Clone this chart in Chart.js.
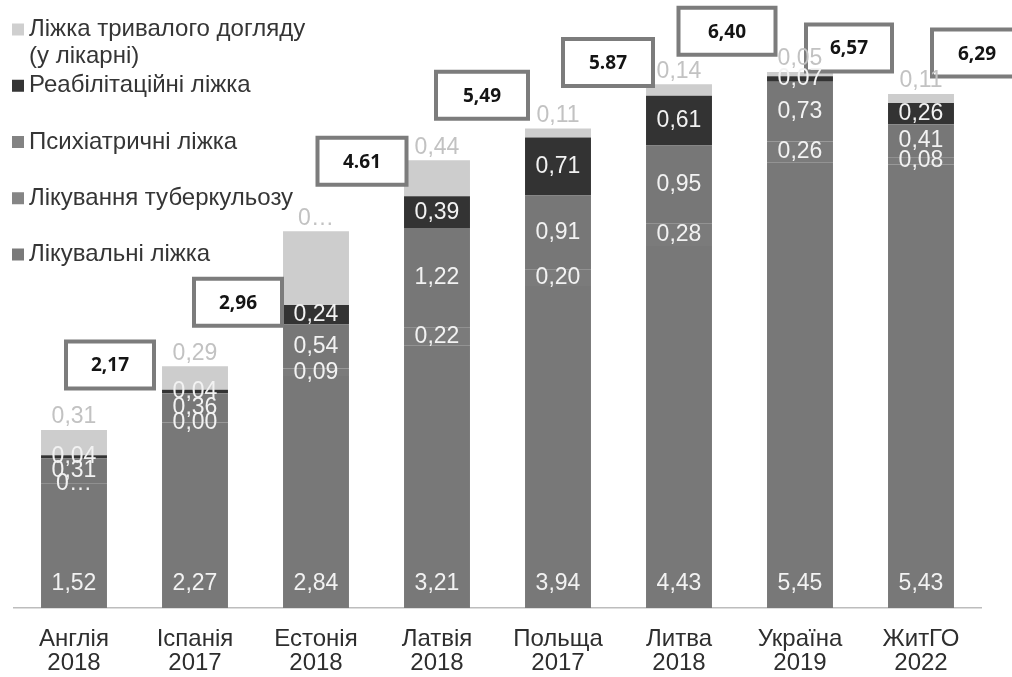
<!DOCTYPE html>
<html>
<head>
<meta charset="utf-8">
<script src="https://cdn.jsdelivr.net/npm/chart.js@4.4.1/dist/chart.umd.min.js"></script>
<style>
  html, body { margin: 0; padding: 0; background: #ffffff; }
  canvas { display: block; }
</style>
</head>
<body>
<canvas id="chart" width="1012" height="677"></canvas>
<script>
// ---- data ----
const categories = [
  ['Англія', '2018'], ['Іспанія', '2017'], ['Естонія', '2018'], ['Латвія', '2018'],
  ['Польща', '2017'], ['Литва', '2018'], ['Україна', '2019'], ['ЖитГО', '2022']
];
const treatmentBeds = [1.52, 2.27, 2.84, 3.21, 3.94, 4.43, 5.45, 5.43];
const tuberculosisBeds = [0.00, 0.00, 0.09, 0.22, 0.20, 0.28, 0.26, 0.08];
const psychiatricBeds = [0.31, 0.36, 0.54, 1.22, 0.91, 0.95, 0.73, 0.41];
const rehabilitationBeds = [0.04, 0.04, 0.24, 0.39, 0.71, 0.61, 0.07, 0.26];
const longTermBeds = [0.31, 0.29, 0.90, 0.44, 0.11, 0.14, 0.05, 0.11];
const totalLabels = ['2,17', '2,96', '4.61', '5,49', '5.87', '6,40', '6,57', '6,29'];
const seriesNames = [
  ['Лікувальні ліжка'],
  ['Лікування туберкульозу'],
  ['Психіатричні ліжка'],
  ['Реабілітаційні ліжка'],
  ['Ліжка тривалого догляду', '(у лікарні)']
];
// labels that are shown cut off ("0…") in the original: series index -> category indices
const cutLabels = { 1: [0], 4: [2] };

// ---- layout / style (not data) ----
const FONT = '"Liberation Sans", Arial, sans-serif';
const seriesColors = ['#787878', '#7b7b7b', '#777777', '#333333', '#cdcdcd'];
const legendColors = ['#7a7a7a', '#858585', '#838383', '#353535', '#cfcfcf'];
// total boxes: [dx from bar centre, dy from stack top, width]
const boxLayout = [
  [36, -65, 88], [43, -64, 88], [46, -70, 89], [45, -65, 92],
  [50, -66, 90], [48, -53, 97], [49, -24, 86], [56, -41, 90]
];

function fmt(v) { return v.toFixed(2).replace('.', ','); }

const valueLabelsPlugin = {
  id: 'valueLabels',
  afterDatasetsDraw(chart) {
    const ctx = chart.ctx;
    const yScale = chart.scales.y;
    const meta0 = chart.getDatasetMeta(0);
    ctx.save();
    // totals boxes
    categories.forEach((c, i) => {
      const sum = chart.data.datasets.reduce((s, d) => s + d.data[i], 0);
      const [dx, dy, w] = boxLayout[i];
      const h = 47;
      const cx = meta0.data[i].x + dx;
      const cy = yScale.getPixelForValue(sum) + dy;
      ctx.fillStyle = '#ffffff';
      ctx.strokeStyle = '#7c7c7c';
      ctx.lineWidth = 4;
      ctx.beginPath();
      ctx.rect(cx - w / 2, cy - h / 2, w, h);
      ctx.fill();
      ctx.stroke();
      ctx.fillStyle = '#141414';
      ctx.font = 'bold 19px "Open Sans", ' + FONT;
      ctx.textAlign = 'center';
      ctx.textBaseline = 'middle';
      ctx.fillText(totalLabels[i], cx, cy + 1);
    });
    // value labels
    ctx.font = '23px ' + FONT;
    ctx.textAlign = 'center';
    ctx.textBaseline = 'middle';
    chart.data.datasets.forEach((ds, di) => {
      const meta = chart.getDatasetMeta(di);
      meta.data.forEach((bar, i) => {
        const v = ds.data[i];
        const text = (cutLabels[di] || []).includes(i) ? '0…' : fmt(v);
        let y, color;
        if (di === 0) { y = bar.base - 24.5; color = '#f2f2f2'; }
        else if (di === chart.data.datasets.length - 1) { y = bar.y - 13; color = '#c2c2c2'; }
        else { y = (bar.y + bar.base) / 2; color = '#f2f2f2'; }
        ctx.fillStyle = color;
        ctx.fillText(text, bar.x, y);
      });
    });
    ctx.restore();
  },
  afterDraw(chart) {
    const ctx = chart.ctx;
    ctx.save();
    // legend
    const ds = chart.data.datasets;
    ctx.font = '24px ' + FONT;
    ctx.textAlign = 'left';
    ctx.textBaseline = 'middle';
    const startY = 29.5, step = 56.25;
    for (let k = 0; k < ds.length; k++) {
      const di = ds.length - 1 - k;
      const y = startY + k * step;
      ctx.fillStyle = legendColors[di];
      ctx.fillRect(12, y - 6, 12, 12);
      ctx.fillStyle = '#353535';
      seriesNames[di].forEach((line, li) => ctx.fillText(line, 29, y + li * 26.5));
    }
    ctx.restore();
  }
};

new Chart(document.getElementById('chart'), {
  type: 'bar',
  data: {
    labels: categories,
    datasets: [treatmentBeds, tuberculosisBeds, psychiatricBeds, rehabilitationBeds, longTermBeds].map((d, i) => ({
      label: seriesNames[i].join(' '),
      data: d,
      backgroundColor: seriesColors[i],
      borderWidth: 0,
      barPercentage: 0.545,
      categoryPercentage: 1.0
    }))
  },
  options: {
    responsive: false,
    animation: false,
    layout: { padding: { left: 13.5, right: 30.5, top: 0, bottom: 0 } },
    plugins: { legend: { display: false }, tooltip: { enabled: false }, title: { display: false } },
    scales: {
      x: {
        stacked: true,
        grid: { display: false, drawTicks: false },
        border: { display: true, color: '#bdbdbd', width: 1.5, dash: [2, 2] },
        ticks: { color: '#2e2e2e', font: { family: FONT, size: 24, lineHeight: 1.0 }, padding: 19, maxRotation: 0, autoSkip: false },
        afterFit(s) { s.height = 69; }
      },
      y: { stacked: true, display: false, min: 0, max: 7.442 }
    }
  },
  plugins: [valueLabelsPlugin]
});
</script>
</body>
</html>
